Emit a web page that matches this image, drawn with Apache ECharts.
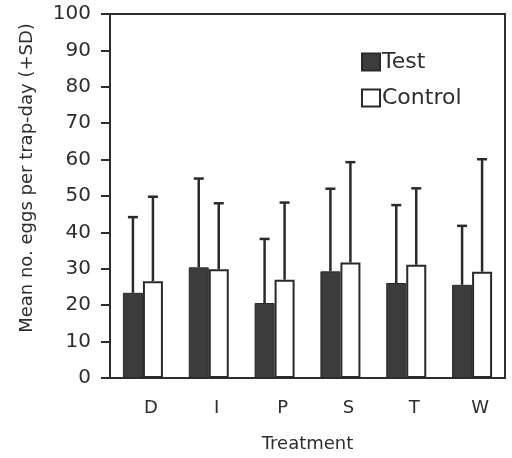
<!DOCTYPE html>
<html>
<head>
<meta charset="utf-8">
<script src="https://cdn.jsdelivr.net/npm/echarts@6/dist/echarts.min.js"></script>
<style>
  html, body { margin: 0; padding: 0; background: #fff; }
  #show { width: 512px; height: 458px; }
</style>
</head>
<body>
<div id="show"></div>
<script>
var treatments = ['D', 'I', 'P', 'S', 'T', 'W'];
var testMean = [23.4, 30.4, 20.6, 29.3, 26.1, 25.6];
var testSD = [20.8, 24.4, 17.6, 22.7, 21.4, 16.2];
var controlMean = [26.6, 29.9, 27.0, 31.7, 31.1, 29.2];
var controlSD = [23.2, 18.1, 21.2, 27.6, 21.0, 30.9];

var font = 'DejaVu Sans';
var ink = '#2e2e2e';
var barWidth = 20;

var myChart = echarts.init(document.getElementById('show'));

function errData(mean, sd) {
    return mean.map(function (m, i) { return [i, m, m + sd[i]]; });
}

// draws the +SD whisker with a cap, shifted onto its own bar
function errorBar(shift) {
    return function (params, api) {
        var lo = api.coord([api.value(0), api.value(1)]);
        var hi = api.coord([api.value(0), api.value(2)]);
        var x = lo[0] + shift;
        var style = { stroke: '#2a2a2a', lineWidth: 2.5 };
        return {
            type: 'group',
            children: [
                { type: 'line', shape: { x1: x, y1: lo[1], x2: x, y2: hi[1] }, style: style },
                { type: 'line', shape: { x1: x - 5, y1: hi[1], x2: x + 5, y2: hi[1] }, style: style }
            ]
        };
    };
}

myChart.setOption({
    animation: false,
    grid: {
        left: 110, right: 7, top: 14, bottom: 78,
        show: true, borderColor: ink, borderWidth: 2, backgroundColor: 'transparent'
    },
    legend: {
        orient: 'vertical',
        left: 356, top: 46,
        itemWidth: 18, itemHeight: 17, itemGap: 14,
        icon: 'rect',
        data: ['Test', 'Control'],
        textStyle: { fontFamily: font, fontSize: 22, color: ink, padding: [0, 0, 0, -3] }
    },
    xAxis: {
        type: 'category',
        data: treatments,
        name: 'Treatment',
        nameLocation: 'middle',
        nameGap: 57,
        nameTextStyle: { fontFamily: font, fontSize: 18, color: ink },
        axisLine: { lineStyle: { color: ink, width: 2 } },
        axisTick: { length: 6, lineStyle: { color: ink, width: 2 } },
        axisLabel: { fontFamily: font, fontSize: 18, color: ink, margin: 21, padding: [0, 0, 0, 16] }
    },
    yAxis: {
        type: 'value',
        min: 0, max: 100, interval: 10,
        name: 'Mean no. eggs per trap-day (+SD)',
        nameLocation: 'middle',
        nameGap: 74,
        nameTextStyle: { fontFamily: font, fontSize: 18, color: ink, padding: [0, 0, 0, 36] },
        axisLine: { show: true, lineStyle: { color: ink, width: 2 } },
        axisTick: { show: true, length: 9, lineStyle: { color: ink, width: 2 } },
        axisLabel: { fontFamily: font, fontSize: 20, color: ink, margin: 19 },
        splitLine: { show: false }
    },
    series: [
        {
            name: 'Test',
            type: 'bar',
            data: testMean,
            barWidth: barWidth,
            barGap: '0%',
            itemStyle: { color: '#3c3c3c', borderColor: '#2a2a2a', borderWidth: 1 }
        },
        {
            name: 'Control',
            type: 'bar',
            data: controlMean,
            barWidth: barWidth,
            itemStyle: { color: '#fff', borderColor: '#2a2a2a', borderWidth: 2 }
        },
        {
            type: 'custom',
            renderItem: errorBar(-barWidth / 2),
            data: errData(testMean, testSD),
            encode: { x: 0, y: [1, 2] },
            z: 1
        },
        {
            type: 'custom',
            renderItem: errorBar(barWidth / 2),
            data: errData(controlMean, controlSD),
            encode: { x: 0, y: [1, 2] },
            z: 1
        }
    ]
});
</script>
</body>
</html>
